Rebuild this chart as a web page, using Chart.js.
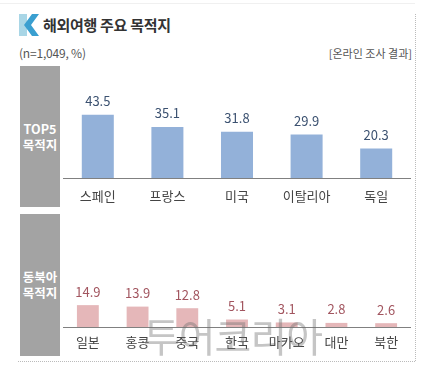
<!DOCTYPE html>
<html><head><meta charset="utf-8">
<script src="https://cdn.jsdelivr.net/npm/chart.js@4"></script>
<style>
html,body{margin:0;padding:0;background:#fff;}
body{width:425px;height:370px;position:relative;overflow:hidden;font-family:"Noto Sans CJK KR","Noto Sans",sans-serif;}
.abs{position:absolute;}
#title{left:43px;top:14px;font-size:15px;font-weight:bold;color:#333;line-height:22px;letter-spacing:-0.3px;}
#note{left:19px;top:45px;font-size:12px;color:#555;line-height:16px;letter-spacing:-0.2px;}
#src{right:13px;top:45px;font-size:11px;color:#555;line-height:16px;}
.box{left:20px;width:40px;background:#a3a3a3;color:#fff;font-weight:bold;font-size:12.5px;line-height:16px;display:flex;align-items:center;justify-content:center;text-align:center;}
#vline{left:415px;top:14px;width:0;height:347px;border-left:1px dotted #bbb;}
#hline{left:18px;top:361px;width:397px;height:0;border-top:1px dotted #bbb;}
#topline{left:0;top:3px;width:415px;height:0;border-top:1px solid #f0f0f0;}
#wm{left:143px;top:312px;font-size:40px;color:rgba(110,110,110,0.4);line-height:46px;letter-spacing:-1px;pointer-events:none;}
</style></head>
<body>
<div class="abs" id="topline"></div>
<svg class="abs" style="left:19px;top:14px" width="24" height="22" viewBox="0 0 24 22">
  <rect x="0" y="0" width="8" height="22" fill="#a9d6e6"/>
  <polygon points="20,0 13,0 5,11 13,22 20,22 12,11" fill="#3a9fd0"/>
</svg>
<div class="abs" id="title">해외여행 주요 목적지</div>
<div class="abs" id="note">(n=1,049, %)</div>
<div class="abs" id="src">[온라인 조사 결과]</div>
<div class="abs box" style="top:66px;height:141px;">TOP5<br>목적지</div>
<div class="abs box" style="top:214px;height:142px;">동북아<br>목적지</div>
<div class="abs" id="vline"></div>
<div class="abs" id="hline"></div>
<canvas id="c1" class="abs" style="left:63px;top:66px;width:348px;height:141px;" width="348" height="141"></canvas>
<canvas id="c2" class="abs" style="left:63px;top:214px;width:348px;height:142px;" width="348" height="142"></canvas>
<div class="abs" id="wm">투어코리아</div>
<script>
const topCategories = ["스페인","프랑스","미국","이탈리아","독일"];
const topValues = [43.5, 35.1, 31.8, 29.9, 20.3];
const neCategories = ["일본","홍콩","중국","한국","마카오","대만","북한"];
const neValues = [14.9, 13.9, 12.8, 5.1, 3.1, 2.8, 2.6];

const valueLabels = {
  id: 'valueLabels',
  afterDatasetsDraw(chart, args, opts) {
    const ctx = chart.ctx;
    const meta = chart.getDatasetMeta(0);
    const data = chart.data.datasets[0].data;
    ctx.save();
    ctx.font = '13px "Noto Sans CJK KR", "Noto Sans", sans-serif';
    ctx.fillStyle = opts.color;
    ctx.textAlign = 'center';
    ctx.textBaseline = 'bottom';
    meta.data.forEach((el, i) => {
      ctx.fillText(data[i].toFixed(1), el.x, el.y - opts.gap);
    });
    ctx.restore();
  }
};

function makeChart(id, labels, values, barColor, labelColor, barPct, gap, pad) {
  return new Chart(document.getElementById(id), {
    type: 'bar',
    data: { labels: labels, datasets: [{ data: values, backgroundColor: barColor, borderWidth: 0, barPercentage: barPct, categoryPercentage: 1 }] },
    options: {
      responsive: false, animation: false,
      layout: { padding: 0 },
      plugins: { legend: { display: false }, tooltip: { enabled: false }, valueLabels: { color: labelColor, gap: gap } },
      scales: {
        y: { display: false, min: 0, max: 77 },
        x: {
          grid: { display: false, drawTicks: false },
          border: { display: true, color: '#808080', width: 1 },
          ticks: { color: '#444', padding: pad, font: { size: 13, family: '"Noto Sans CJK KR", "Noto Sans", sans-serif' } },
          afterFit(scale) { scale.height = 29; }
        }
      }
    },
    plugins: [valueLabels]
  });
}
makeChart('c1', topCategories, topValues, '#93b1d9', '#3b5170', 0.46, 7, 10);
makeChart('c2', neCategories, neValues, '#e5b7b9', '#a2555f', 0.44, 7, 7);
</script>
</body></html>
